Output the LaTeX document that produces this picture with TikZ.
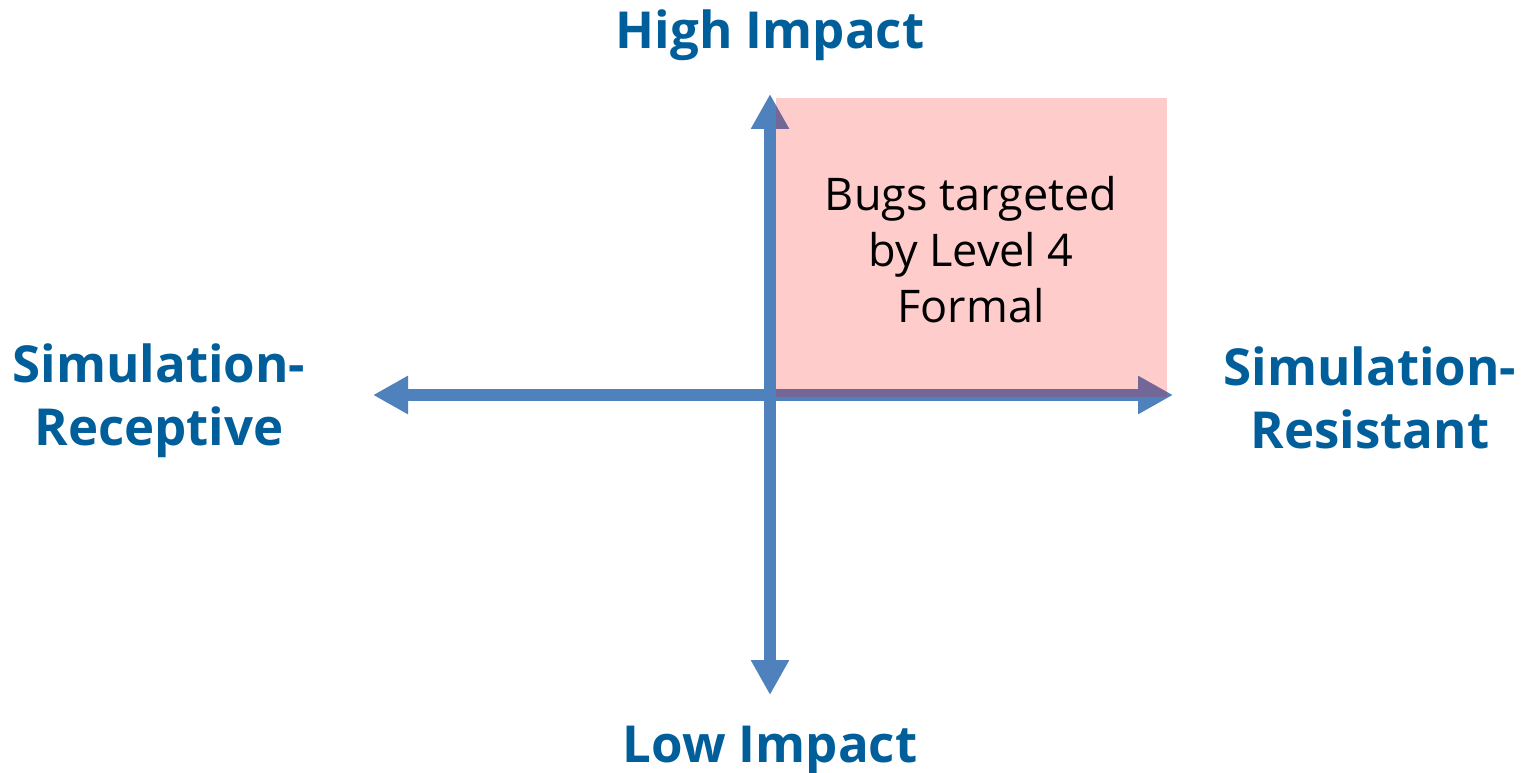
\documentclass[tikz,border=0pt]{standalone}
\usepackage{fontspec}
\setmainfont{Open Sans}
\usetikzlibrary{arrows.meta}
\definecolor{axisblue}{HTML}{4F81BD}
\definecolor{labelblue}{HTML}{005F9A}
\begin{document}
\begin{tikzpicture}[x=1pt,y=-1pt,
  axis/.style={draw=axisblue,line width=12pt,
    {Triangle[length=35pt,width=36pt]}-{Triangle[length=35pt,width=36pt]}},
  axislabel/.style={text=labelblue,font=\fontsize{51}{63}\selectfont\bfseries,
    align=center,inner sep=0pt},
  quadrant/.style={fill=red,fill opacity=0.2,draw=none},
  quadtext/.style={text=black,font=\fontsize{45}{56}\selectfont,align=center,inner sep=0pt}]
  \useasboundingbox (0,0) rectangle (1522,773);

  % axis end points
  \coordinate (top) at (770,94);
  \coordinate (bottom) at (770,695);
  \coordinate (left) at (373,395);
  \coordinate (right) at (1173,395);

  % the two axes
  \draw[axis] (bottom) -- (top);
  \draw[axis] (left) -- (right);

  % highlighted quadrant
  \path[quadrant] (776,98) rectangle (1167,397);
  \node[quadtext] (bugs) at (971,250) {Bugs targeted\\by Level 4\\Formal};

  % axis labels
  \node[axislabel,anchor=base] (high) at (770,49) {High Impact};
  \node[axislabel,anchor=base] (low) at (770,762) {Low Impact};
  \node[axislabel] (receptive) at (159,401) {Simulation-\\Receptive};
  \node[axislabel] (resistant) at (1370,398) {Simulation-\\Resistant};
\end{tikzpicture}
\end{document}
